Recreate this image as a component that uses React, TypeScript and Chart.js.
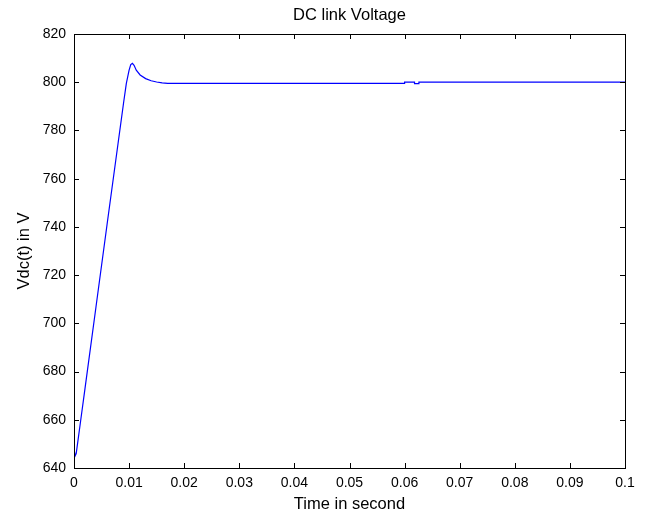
import React, { useEffect, useRef } from "react";
import { Chart, registerables } from "chart.js";

Chart.register(...registerables);

const timeS = [
  0, 0.0002, 0.0004, 0.0012, 0.002, 0.004, 0.006, 0.008, 0.009, 0.0095, 0.01, 0.0103, 0.0106,
  0.0109, 0.0113, 0.012, 0.013, 0.014, 0.015, 0.016, 0.017, 0.06, 0.06, 0.0618, 0.0618, 0.0626,
  0.0626, 0.1,
];
const vdc = [
  648, 645, 646, 659.5, 673, 707, 741, 774.7, 791.5, 799.5, 805, 807.3, 807.8,
  807, 805, 803, 801.5, 800.6, 800.1, 799.7, 799.5, 799.5, 800, 800, 799.4, 799.4,
  800, 800,
];
const xTicks = [0, 0.01, 0.02, 0.03, 0.04, 0.05, 0.06, 0.07, 0.08, 0.09, 0.1];
const xTickLabels = ["0", "0.01", "0.02", "0.03", "0.04", "0.05", "0.06", "0.07", "0.08", "0.09", "0.1"];
const yTicks = [640, 660, 680, 700, 720, 740, 760, 780, 800, 820];

const FONT = "'Liberation Sans', Arial, sans-serif";
const TITLE_SIZE = 16.5;

const boxPlugin = {
  id: "boxTicks",
  afterLayout(chart: any) {
    const tb = chart.titleBlock;
    if (tb) {
      tb.left = chart.chartArea.left;
      tb.right = chart.chartArea.right;
      tb.width = chart.chartArea.right - chart.chartArea.left;
    }
  },
  afterDraw(chart: any) {
    const { ctx, chartArea } = chart;
    const { left, right, top, bottom } = chartArea;
    const xs = chart.scales.x;
    const ys = chart.scales.y;
    const L = 5;
    ctx.save();
    ctx.strokeStyle = "#000";
    ctx.lineWidth = 1;
    ctx.beginPath();
    xs.ticks.forEach((t: any) => {
      const px = Math.round(xs.getPixelForValue(t.value)) + 0.5;
      ctx.moveTo(px, bottom);
      ctx.lineTo(px, bottom - L);
      ctx.moveTo(px, top);
      ctx.lineTo(px, top + L);
    });
    ys.ticks.forEach((t: any) => {
      const py = Math.round(ys.getPixelForValue(t.value)) + 0.5;
      ctx.moveTo(left, py);
      ctx.lineTo(left + L, py);
      ctx.moveTo(right, py);
      ctx.lineTo(right - L, py);
    });
    ctx.stroke();
    ctx.strokeRect(Math.round(left) + 0.5, Math.round(top) + 0.5, Math.round(right - left), Math.round(bottom - top));
    ctx.restore();
  },
};

export default function App() {
  const ref = useRef<HTMLCanvasElement>(null);
  useEffect(() => {
    document.body.style.margin = "0";
    const chart = new Chart(ref.current!, {
      type: "line",
      data: {
        datasets: [
          {
            label: "Vdc",
            data: timeS.map((t, i) => ({ x: t, y: vdc[i] })),
            borderColor: "#0000ff",
            borderWidth: 1.2,
            pointRadius: 0,
            tension: 0,
            fill: false,
          },
        ],
      },
      options: {
        responsive: false,
        animation: false,
        layout: { padding: { left: 0, right: 28, top: 0, bottom: 0 } },
        plugins: {
          legend: { display: false },
          tooltip: { enabled: false },
          title: {
            display: true,
            text: "DC link Voltage",
            color: "#000",
            font: { family: FONT, size: TITLE_SIZE, weight: "normal" },
            padding: { top: 6, bottom: 8.2 },
          },
        },
        scales: {
          x: {
            type: "linear",
            min: 0,
            max: 0.1,
            afterBuildTicks: (s: any) => {
              s.ticks = xTicks.map((v) => ({ value: v }));
            },
            afterFit: (s: any) => {
              s.height = 46;
            },
            grid: { display: false, drawTicks: false },
            border: { display: false },
            ticks: {
              color: "#000",
              font: { family: FONT, size: 14 },
              padding: 7,
              maxRotation: 0,
              autoSkip: false,
              callback: (v: any) => {
                const i = xTicks.findIndex((t) => Math.abs(t - v) < 1e-9);
                return i >= 0 ? xTickLabels[i] : "";
              },
            },
            title: {
              display: true,
              text: "Time in second",
              color: "#000",
              font: { family: FONT, size: TITLE_SIZE },
              padding: { top: 0, bottom: 0 },
            },
          },
          y: {
            type: "linear",
            min: 640,
            max: 820,
            afterBuildTicks: (s: any) => {
              s.ticks = yTicks.map((v) => ({ value: v }));
            },
            afterFit: (s: any) => {
              s.width = 74;
            },
            grid: { display: false, drawTicks: false },
            border: { display: false },
            ticks: {
              color: "#000",
              font: { family: FONT, size: 14 },
              padding: 8,
              autoSkip: false,
            },
            title: {
              display: true,
              text: "Vdc(t) in V",
              color: "#000",
              font: { family: FONT, size: TITLE_SIZE },
              padding: { top: 15, bottom: 0 },
            },
          },
        },
      },
      plugins: [boxPlugin],
    } as any);
    return () => chart.destroy();
  }, []);
  return (
    <div style={{ width: 653, height: 514, background: "#fff" }}>
      <canvas ref={ref} width={653} height={514} style={{ display: "block" }} />
    </div>
  );
}
